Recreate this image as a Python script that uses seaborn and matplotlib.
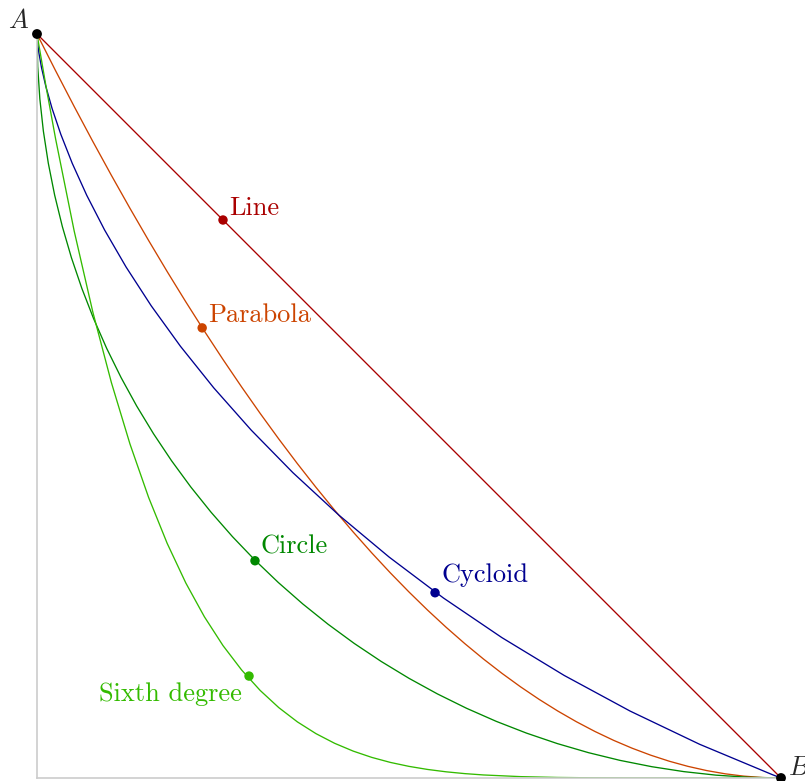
import numpy as np
import pandas as pd
import matplotlib
matplotlib.use("Agg")
import matplotlib.pyplot as plt
import seaborn as sns

sns.set_theme(style="white")
plt.rcParams.update({'mathtext.fontset': 'cm', 'font.family': ['cmr10', 'DejaVu Serif']})

# Curves from A (0, 1) to B (1, 0)
line_x = [0.0, 1.0]
line_y = [1.0, 0.0]

parabola_x = [0.0, 0.025, 0.05, 0.075, 0.1, 0.125, 0.15, 0.175, 0.2, 0.225, 0.25,
              0.275, 0.3, 0.325, 0.35, 0.375, 0.4, 0.425, 0.45, 0.475, 0.5,
              0.525, 0.55, 0.575, 0.6, 0.625, 0.65, 0.675, 0.7, 0.725, 0.75,
              0.775, 0.8, 0.825, 0.85, 0.875, 0.9, 0.925, 0.95, 0.975, 1.0]
parabola_y = [1.0, 0.950625, 0.9025, 0.855625, 0.81, 0.765625, 0.7225, 0.680625, 0.64,
              0.600625, 0.5625, 0.525625, 0.49, 0.455625, 0.4225, 0.390625, 0.36,
              0.330625, 0.3025, 0.275625, 0.25, 0.225625, 0.2025, 0.180625, 0.16,
              0.140625, 0.1225, 0.105625, 0.09, 0.075625, 0.0625, 0.050625, 0.04,
              0.030625, 0.0225, 0.015625, 0.01, 0.005625, 0.0025, 0.000625, 0.0]

cycloid_x = [0.0, 0.0001, 0.00076, 0.00257, 0.00606, 0.01179, 0.02026, 0.03196, 0.04735,
             0.06684, 0.09082, 0.11962, 0.15351, 0.19275, 0.2375, 0.28789, 0.34398,
             0.4058, 0.4733, 0.54637, 0.62486, 0.70856, 0.79719, 0.89046, 0.98799, 1.0]
cycloid_y = [1.0, 0.99714, 0.98858, 0.97441, 0.95478, 0.92987, 0.89993, 0.86528, 0.82624,
             0.78322, 0.73664, 0.68697, 0.63469, 0.58035, 0.52447, 0.46762, 0.41037,
             0.35329, 0.29694, 0.24189, 0.18869, 0.13787, 0.08995, 0.04539, 0.00465, 0.0]

circle_x = [0.0, 0.00095, 0.00381, 0.00856, 0.01519, 0.0237, 0.03407, 0.04628, 0.06031,
            0.07612, 0.09369, 0.11299, 0.13397, 0.15661, 0.18085, 0.20665, 0.23396,
            0.26272, 0.29289, 0.32441, 0.35721, 0.39124, 0.42642, 0.4627, 0.5,
            0.53825, 0.57738, 0.61732, 0.65798, 0.69929, 0.74118, 0.78356, 0.82635,
            0.86947, 0.91284, 0.95638, 1.0]
circle_y = [1.0, 0.95638, 0.91284, 0.86947, 0.82635, 0.78356, 0.74118, 0.69929, 0.65798,
            0.61732, 0.57738, 0.53825, 0.5, 0.4627, 0.42642, 0.39124, 0.35721, 0.32441,
            0.29289, 0.26272, 0.23396, 0.20665, 0.18085, 0.15661, 0.13397, 0.11299,
            0.09369, 0.07612, 0.06031, 0.04628, 0.03407, 0.0237, 0.01519, 0.00856,
            0.00381, 0.00095, 0.0]

sixth_x = [0.0, 0.0125, 0.025, 0.05, 0.075, 0.1, 0.125, 0.15, 0.175, 0.2, 0.225, 0.25,
           0.275, 0.3, 0.325, 0.35, 0.375, 0.4, 0.425, 0.45, 0.475, 0.5, 0.525, 0.55,
           0.575, 0.6, 0.65, 0.7, 0.75, 0.8, 0.9, 1.0]
sixth_y = [1.0, 0.927306, 0.859068, 0.735092, 0.626398, 0.531441, 0.448795, 0.37715,
           0.3153, 0.262144, 0.216675, 0.177979, 0.145221, 0.117649, 0.094585, 0.075419,
           0.059605, 0.046656, 0.036141, 0.027681, 0.020939, 0.015625, 0.011486,
           0.008304, 0.005893, 0.004096, 0.001838, 0.000729, 0.000244, 0.000064,
           0.000001, 0.0]

names = ['Line', 'Parabola', 'Cycloid', 'Circle', 'Sixth degree']
colors = ['#aa0000', '#cc4400', '#000090', '#008800', '#33bb00']
mark_x = [0.25, 0.222, 0.535, 0.293, 0.285]
mark_y = [0.75, 0.605, 0.249, 0.292, 0.137]

curves = [(line_x, line_y), (parabola_x, parabola_y), (cycloid_x, cycloid_y),
          (circle_x, circle_y), (sixth_x, sixth_y)]

# label offsets in points (from marker to text baseline)
label_off = [(4.5, 3.6), (4.3, 4.3), (4.3, 8), (4.3, 5), (-5, -18)]

fig = plt.figure(figsize=(8.05, 7.81), dpi=100)
ax = fig.add_axes([37 / 805, 3 / 781, 744 / 805, 744 / 781])

for (cx, cy), col in zip(curves, colors):
    sns.lineplot(x=cx, y=cy, sort=False, estimator=None, color=col, lw=0.95, ax=ax)

sns.scatterplot(x=mark_x, y=mark_y, hue=names, palette=colors, s=46,
                edgecolor='none', legend=False, ax=ax, zorder=5)
sns.scatterplot(x=[0.0, 1.0], y=[1.0, 0.0], color='black', s=50,
                edgecolor='none', legend=False, ax=ax, zorder=6, clip_on=False)

for i, name in enumerate(names):
    ax.annotate(name, (mark_x[i], mark_y[i]), xytext=label_off[i], textcoords='offset points',
                ha='right' if label_off[i][0] < 0 else 'left', va='baseline',
                color=colors[i], fontsize=19)

ax.annotate('$A$', (0.0, 1.0), xytext=(-5.5, 4.3), textcoords='offset points',
            ha='right', va='baseline', fontsize=19, annotation_clip=False)
ax.annotate('$B$', (1.0, 0.0), xytext=(5, 2.2), textcoords='offset points',
            ha='left', va='baseline', fontsize=19, annotation_clip=False)

ax.set_xlim(0, 1)
ax.set_ylim(0, 1)
ax.set_xticks([])
ax.set_yticks([])
for side in ['top', 'right']:
    ax.spines[side].set_visible(False)
for side in ['left', 'bottom']:
    ax.spines[side].set_color('#cccccc')
    ax.spines[side].set_linewidth(1.2)

fig.savefig('out.png', dpi=100)
